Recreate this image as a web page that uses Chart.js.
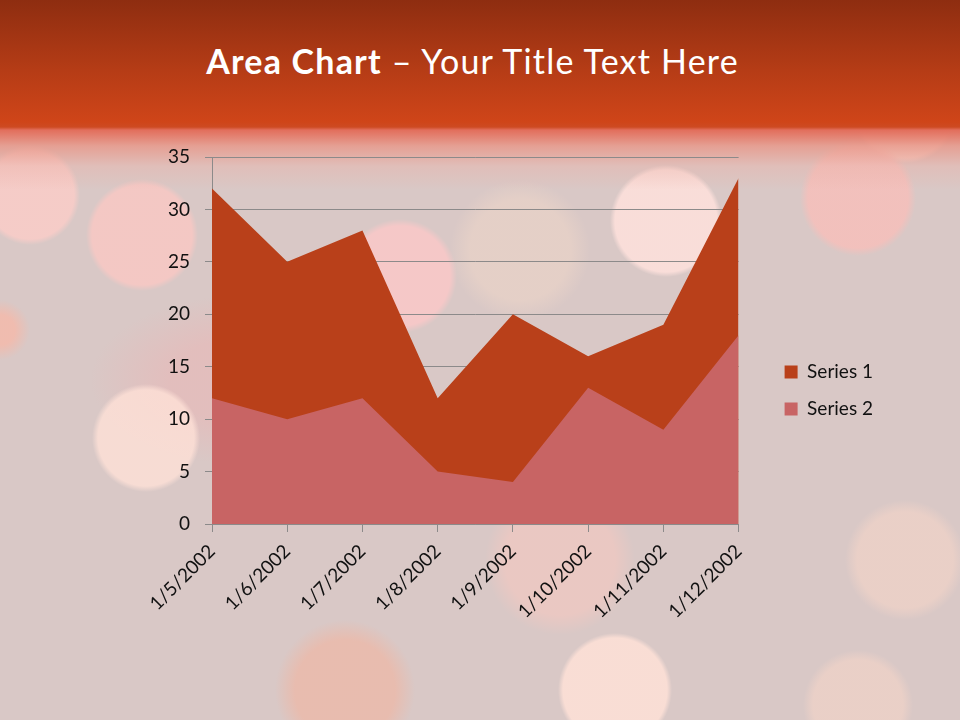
<!DOCTYPE html>
<html>
<head>
<meta charset="utf-8">
<title>Area Chart</title>
<script src="https://cdn.jsdelivr.net/npm/chart.js@4.4.0/dist/chart.umd.min.js"></script>
<style>
  html, body { margin: 0; padding: 0; }
  body { width: 960px; height: 720px; overflow: hidden; font-family: Lato, "Open Sans", sans-serif; }
  #slide {
    position: relative; width: 960px; height: 720px; overflow: hidden;
    background:
      radial-gradient(circle at 30px 195px, rgba(255,205,200,.75) 0 44px, rgba(255,205,200,0) 50px),
      radial-gradient(circle at 142px 235px, rgba(255,200,195,.7) 0 50px, rgba(255,200,195,0) 56px),
      radial-gradient(circle at 146px 438px, rgba(255,225,215,.8) 0 48px, rgba(255,225,215,0) 54px),
      radial-gradient(circle at 400px 276px, rgba(255,200,200,.75) 0 50px, rgba(255,200,200,0) 57px),
      radial-gradient(circle at 666px 221px, rgba(255,225,220,.85) 0 51px, rgba(255,225,220,0) 56px),
      radial-gradient(circle at 858px 198px, rgba(250,190,185,.75) 0 50px, rgba(250,190,185,0) 58px),
      radial-gradient(circle at 905px 110px, rgba(255,215,205,.7) 0 48px, rgba(255,215,205,0) 53px),
      radial-gradient(circle at 615px 690px, rgba(255,225,215,.85) 0 52px, rgba(255,225,215,0) 57px),
      radial-gradient(circle at 905px 560px, rgba(250,215,200,.5) 0 48px, rgba(250,215,200,0) 60px),
      radial-gradient(circle at 858px 705px, rgba(250,215,200,.5) 0 45px, rgba(250,215,200,0) 55px),
      radial-gradient(circle at 345px 690px, rgba(255,170,140,.4) 0 50px, rgba(255,170,140,0) 70px),
      radial-gradient(circle at 560px 560px, rgba(255,200,190,.45) 0 55px, rgba(255,200,190,0) 75px),
      radial-gradient(circle at 520px 250px, rgba(240,215,200,.5) 0 50px, rgba(240,215,200,0) 70px),
      radial-gradient(circle at 0px 330px, rgba(255,180,160,.6) 0 15px, rgba(255,180,160,0) 30px),
      radial-gradient(ellipse at 250px 380px, rgba(240,175,175,.4) 0 80px, rgba(240,175,175,0) 160px),
      #d9c8c6;
  }
  .band {
    position: absolute; left: 0; top: 0; width: 960px; height: 190px;
    background: linear-gradient(to bottom,
      #8e2d10 0px, #b53c16 70px, #cf4519 122px, #cd4a22 127px,
      rgba(226,110,92,1) 130px, rgba(232,150,135,.8) 146px,
      rgba(235,175,165,.4) 166px, rgba(235,180,170,0) 190px);
  }
  .title {
    position: absolute; left: 0; top: 40px; width: 945px; margin: 0;
    text-align: center; color: #ffffff; font-size: 34px; font-weight: 400;
    letter-spacing: 1.2px;
    font-family: Lato, "Open Sans", sans-serif;
  }
  .title b { font-weight: 700; }
  #areaChart { position: absolute; left: 0; top: 0; }
</style>
</head>
<body>
<div id="slide">
  <div class="band"></div>
  <h1 class="title"><b>Area Chart</b> – Your Title Text Here</h1>
  <canvas id="areaChart" width="960" height="720"></canvas>
</div>
<script>
// chart data
const categories = ['1/5/2002', '1/6/2002', '1/7/2002', '1/8/2002', '1/9/2002', '1/10/2002', '1/11/2002', '1/12/2002'];
const series1 = [32, 25, 28, 12, 20, 16, 19, 33];
const series2 = [12, 10, 12, 5, 4, 13, 9, 18];
const seriesNames = ['Series 1', 'Series 2'];
const yMin = 0;
const yMax = 35;
const yStep = 5;

const FONT = 'Lato, "Open Sans", sans-serif';
const GRID = '#8c8a8a';

document.addEventListener('DOMContentLoaded', () => {
  const ctx = document.getElementById('areaChart').getContext('2d');
  new Chart(ctx, {
    type: 'line',
    data: {
      labels: categories,
      datasets: [{
        label: seriesNames[0],
        data: series1,
        backgroundColor: '#b9401a',
        borderColor: '#b9401a',
        borderWidth: 0,
        fill: 'origin',
        pointRadius: 0,
        tension: 0,
        order: 2   // drawn behind series 2
      }, {
        label: seriesNames[1],
        data: series2,
        backgroundColor: '#c86464',
        borderColor: '#c86464',
        borderWidth: 0,
        fill: 'origin',
        pointRadius: 0,
        tension: 0,
        order: 1
      }]
    },
    options: {
      responsive: false,
      animation: false,
      layout: { padding: { top: 157, left: 150, bottom: 96, right: 77 } },
      plugins: {
        title: { display: false },
        tooltip: { enabled: false },
        legend: {
          position: 'right',
          align: 'center',
          fullSize: true,
          labels: {
            boxWidth: 13,
            boxHeight: 13,
            padding: 18,
            color: '#111',
            font: { family: FONT, size: 19 },
            sort: (a, b) => a.datasetIndex - b.datasetIndex
          }
        }
      },
      scales: {
        x: {
          offset: false,
          grid: { drawOnChartArea: false, drawTicks: true, tickLength: 8, color: GRID },
          border: { display: true, color: GRID, width: 1 },
          ticks: {
            color: '#111',
            font: { family: FONT, size: 19 },
            minRotation: 45,
            maxRotation: 45,
            autoSkip: false,
            padding: 8
          },
          afterFit: s => { s.height = 100; }
        },
        y: {
          min: yMin,
          max: yMax,
          grid: { color: GRID, tickLength: 7 },
          border: { display: true, color: GRID, width: 1 },
          ticks: {
            stepSize: yStep,
            color: '#111',
            padding: 15,
            font: { family: FONT, size: 19 }
          },
          afterFit: s => { s.width = 62; }
        },
        // empty spacer between plot and legend
        gap: {
          position: 'right',
          display: true,
          grid: { display: false },
          border: { display: false },
          ticks: { display: false },
          afterFit: s => { s.width = 28; }
        }
      }
    }
  });
});
</script>
</body>
</html>
